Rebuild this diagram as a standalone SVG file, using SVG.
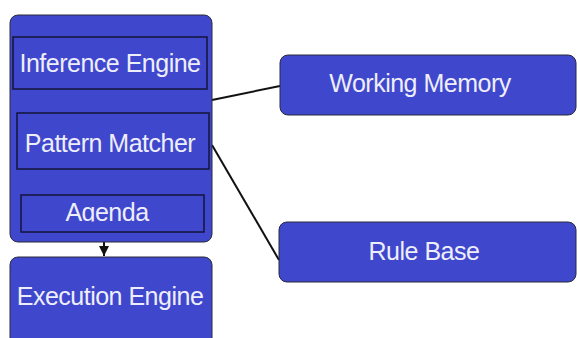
<svg xmlns="http://www.w3.org/2000/svg" width="577" height="338" viewBox="0 0 577 338">
  <defs>
    <style>
      .box { fill: #3f47cc; stroke: #2a2a3a; stroke-width: 1; }
      .inner { fill: #3f47cc; stroke: #15153a; stroke-width: 1.5; }
      .lbl { font-family: "Liberation Sans", Arial, sans-serif; font-size: 25px; letter-spacing: -0.5px; fill: #eeeefb; text-anchor: middle; }
      .conn { stroke: #111; stroke-width: 2; fill: none; }
    </style>
    <marker id="arr" viewBox="0 0 10 10" refX="10" refY="5" markerWidth="10" markerHeight="10" markerUnits="userSpaceOnUse" orient="auto">
      <path d="M0,0 L10,5 L0,10 Z" fill="#111"/>
    </marker>
    <clipPath id="agclip">
      <rect x="21" y="195" width="183" height="26.5"/>
    </clipPath>
  </defs>
  <rect width="577" height="338" fill="#ffffff"/>

  <g id="connectors">
    <line class="conn" x1="212" y1="100" x2="280" y2="86"/>
    <line class="conn" x1="212" y1="145" x2="279" y2="260"/>
    <line class="conn" x1="104" y1="242" x2="104" y2="256" marker-end="url(#arr)"/>
  </g>

  <g id="inference-engine-container">
    <rect class="box" x="10" y="15" width="202" height="227" rx="8"/>
  </g>
  <g id="inference-engine">
    <rect class="inner" x="13" y="37" width="194" height="52"/>
    <text class="lbl" x="110" y="72">Inference Engine</text>
  </g>
  <g id="pattern-matcher">
    <rect class="inner" x="17" y="113" width="192" height="56"/>
    <text class="lbl" x="110" y="152">Pattern Matcher</text>
  </g>
  <g id="agenda">
    <rect class="inner" x="21" y="195" width="183" height="37"/>
    <text class="lbl" x="107" y="221" clip-path="url(#agclip)">Agenda</text>
  </g>
  <g id="execution-engine">
    <rect class="box" x="10" y="257" width="202" height="95" rx="8"/>
    <text class="lbl" x="110" y="305">Execution Engine</text>
  </g>
  <g id="working-memory">
    <rect class="box" x="280" y="55" width="296" height="60" rx="8"/>
    <text class="lbl" x="420" y="92">Working Memory</text>
  </g>
  <g id="rule-base">
    <rect class="box" x="279" y="222" width="297" height="60" rx="8"/>
    <text class="lbl" x="424" y="260">Rule Base</text>
  </g>
</svg>
